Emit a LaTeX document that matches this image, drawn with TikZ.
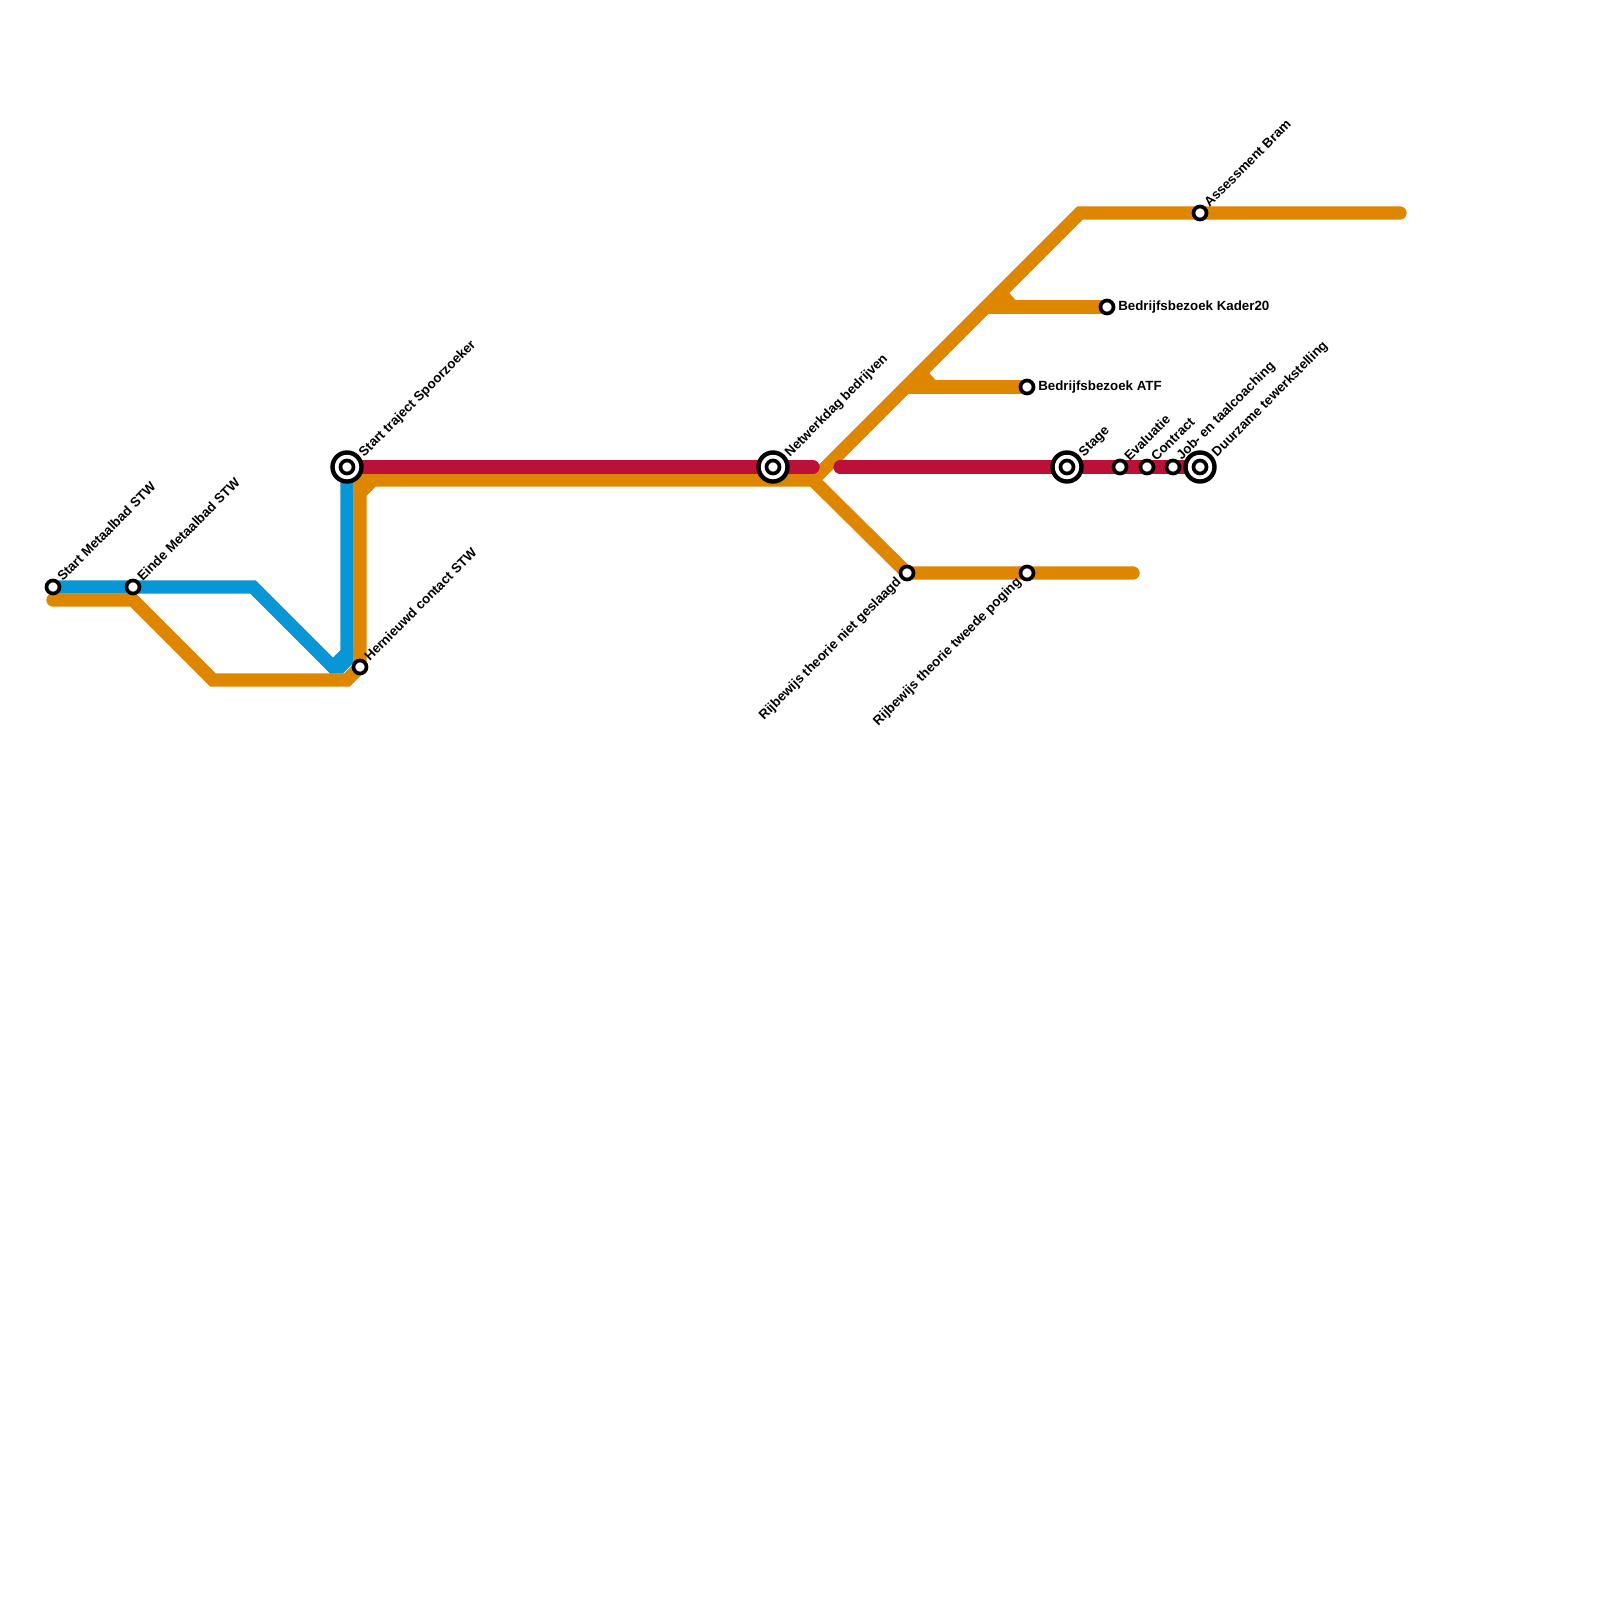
\documentclass[tikz,border=0pt]{standalone}
\usepackage{fontspec}
\setmainfont{Liberation Sans}
\usetikzlibrary{backgrounds}
\definecolor{MetroBlue}{HTML}{0896D7}
\definecolor{MetroOrange}{HTML}{DF8600}
\definecolor{MetroRed}{HTML}{BD1038}
\tikzset{
  stn/.style={circle,draw=black,fill=white,line width=1.05pt,inner sep=0pt,minimum size=0.13cm},
  hubring/.style={circle,draw=black,fill=white,line width=1.25pt,inner sep=0pt,minimum size=0.29cm},
  lblup/.style={font=\fontsize{3.79}{4.5}\selectfont\bfseries,rotate=45,anchor=west,inner sep=0pt},
  lblhub/.style={lblup,yshift=-0.035cm},
  lbldown/.style={font=\fontsize{3.79}{4.5}\selectfont\bfseries,rotate=45,anchor=east,inner sep=0pt,yshift=0.018cm},
  lblright/.style={font=\fontsize{3.79}{4.5}\selectfont\bfseries,anchor=west,inner sep=0pt},
  metro/.style={line width=3.79pt,line cap=round,line join=miter},
  blueline/.style={metro,draw=MetroBlue},
  orangeline/.style={metro,draw=MetroOrange},
  redline/.style={metro,draw=MetroRed},
}
\begin{document}
\begin{tikzpicture}[x=0.01cm,y=-0.01cm,label distance=0.022cm]
  \useasboundingbox (0,0) rectangle (1600,1600);

  % stations
  \node[stn,label={[lblup]45:Start Metaalbad STW}] (metaalstart) at (53,587) {};
  \node[stn,label={[lblup]45:Einde Metaalbad STW}] (metaaleinde) at (133,587) {};
  \node[stn,label={[lblup]45:Hernieuwd contact STW}] (hernieuwd) at (360,667) {};
  \node[hubring,label={[lblhub]45:Start traject Spoorzoeker}] (spoorring) at (347,467) {};
  \node[stn] (spoor) at (spoorring) {};
  \node[hubring,label={[lblhub]45:Netwerkdag bedrijven}] (netwerkring) at (773,467) {};
  \node[stn] (netwerk) at (netwerkring) {};
  \node[stn,label={[lbldown]225:Rijbewijs theorie niet geslaagd}] (theorie1) at (907,573) {};
  \node[stn,label={[lbldown]225:Rijbewijs theorie tweede poging}] (theorie2) at (1027,573) {};
  \node[stn,label={[lblright]0:Bedrijfsbezoek ATF}] (atf) at (1027,387) {};
  \node[stn,label={[lblright]0:Bedrijfsbezoek Kader20}] (kader) at (1107,307) {};
  \node[stn,label={[lblup]45:Assessment Bram}] (bram) at (1200,213) {};
  \node[hubring,label={[lblhub]45:Stage}] (stagering) at (1067,467) {};
  \node[stn] (stage) at (stagering) {};
  \node[stn,label={[lblup]45:Evaluatie}] (evaluatie) at (1120,467) {};
  \node[stn,label={[lblup]45:Contract}] (contract) at (1147,467) {};
  \node[stn,label={[lblup]45:Job- en taalcoaching}] (coaching) at (1173,467) {};
  \node[hubring,label={[lblhub]45:Duurzame tewerkstelling}] (duurzaamring) at (1200,467) {};
  \node[stn] (duurzaam) at (duurzaamring) {};

  % bends of the lines
  \coordinate (b1) at (253,587);
  \coordinate (b2) at (333,667);
  \coordinate (b3) at (340,667);
  \coordinate (b4) at (347,660);
  \coordinate (b5) at (347,653);
  \coordinate (o0) at (53,600);
  \coordinate (o1) at (133,600);
  \coordinate (o2) at (213,680);
  \coordinate (o3) at (347,680);
  \coordinate (o4) at (360,480);
  \coordinate (o5) at (360,493);
  \coordinate (o6) at (373,480);
  \coordinate (split) at (813,480);
  \coordinate (top) at (1080,213);
  \coordinate (topend) at (1400,213);
  \coordinate (lowend) at (1133,573);
  \coordinate (atf0) at (907,387);
  \coordinate (atf1) at (920,373);
  \coordinate (atf2) at (933,387);
  \coordinate (kad0) at (987,307);
  \coordinate (kad1) at (1000,293);
  \coordinate (kad2) at (1013,307);
  \coordinate (redend) at (813,467);
  \coordinate (redstart) at (840,467);

  \begin{scope}[on background layer]
    \draw[blueline] (metaalstart.center) -- (b1) -- (b2) -- (b3) -- (b4) -- (spoor.center);
    \draw[blueline] (b2) -- (b5);
    \draw[orangeline] (o0) -- (o1) -- (o2) -- (o3) -- (hernieuwd.center) -- (o4) -- (split);
    \draw[orangeline] (o5) -- (o6);
    \draw[orangeline] (split) -- (top) -- (topend);
    \draw[orangeline] (split) -- (theorie1.center) -- (lowend);
    \draw[orangeline] (atf0) -- (atf2) -- (atf.center);
    \draw[orangeline] (atf1) -- (atf2);
    \draw[orangeline] (kad0) -- (kad2) -- (kader.center);
    \draw[orangeline] (kad1) -- (kad2);
    \draw[redline] (spoor.center) -- (redend);
    \draw[redline] (redstart) -- (duurzaam.center);
  \end{scope}
\end{tikzpicture}
\end{document}
